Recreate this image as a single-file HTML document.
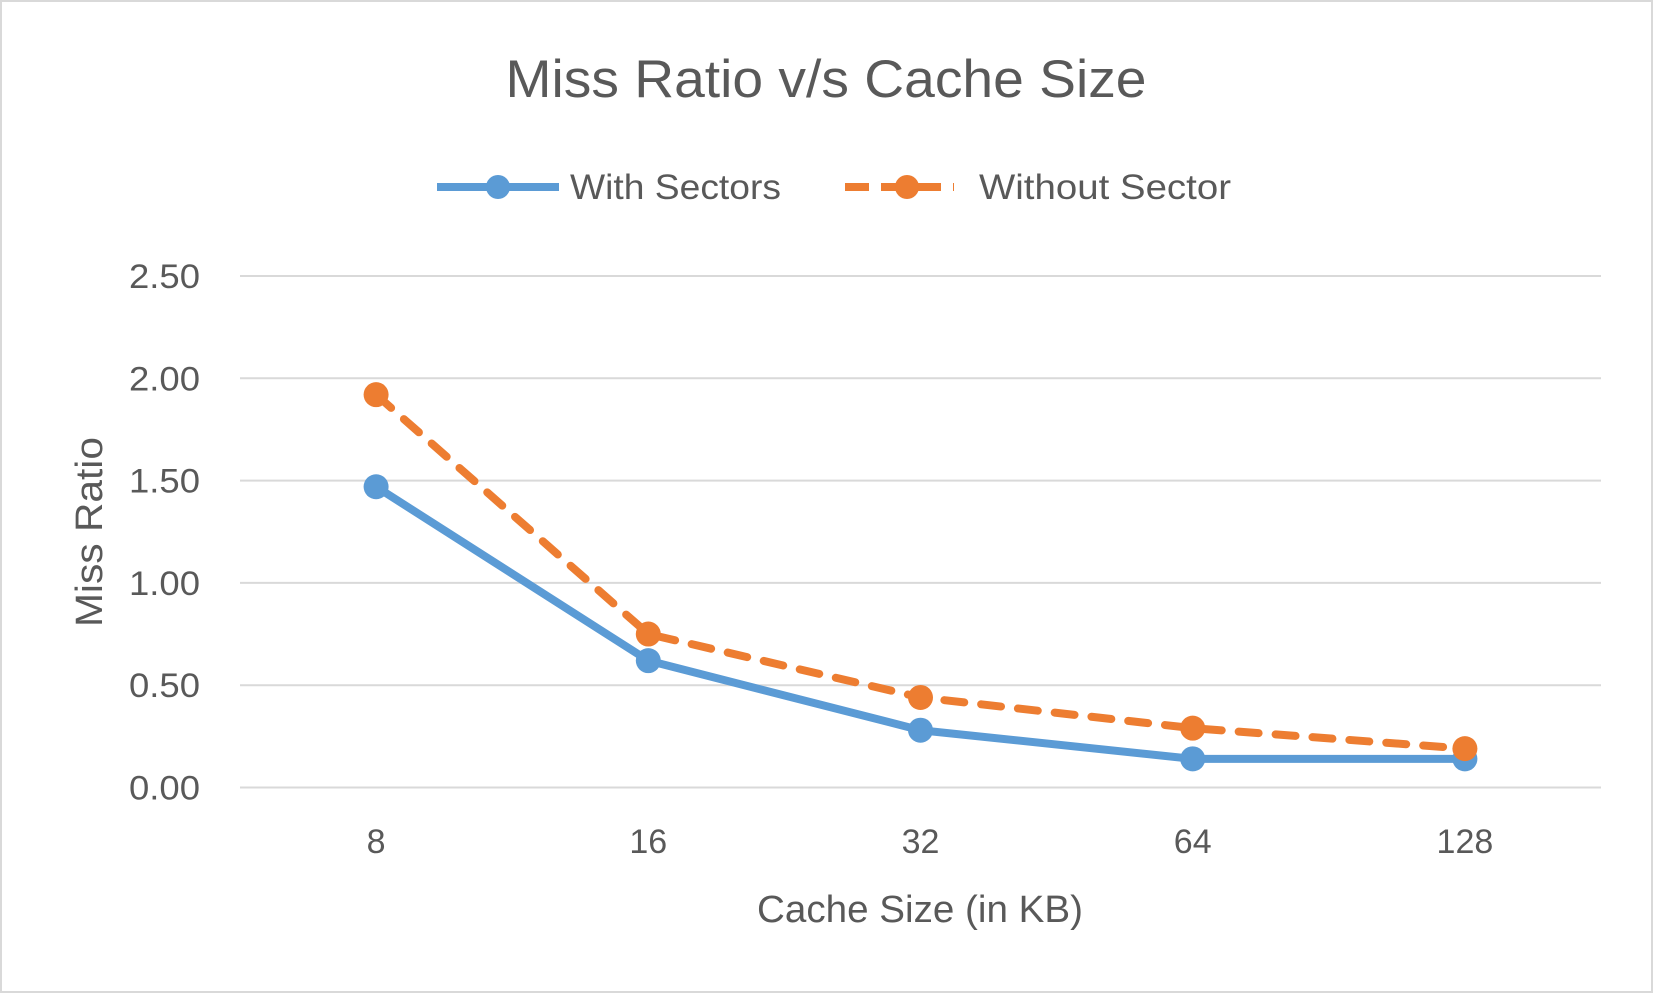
<!DOCTYPE html>
<html><head><meta charset="utf-8"><style>
html,body{margin:0;padding:0;background:#fff;}
svg{display:block;font-family:"Liberation Sans",sans-serif;}
</style></head><body>
<svg id="chart" width="1653" height="993" viewBox="0 0 1653 993">
<rect x="1" y="1" width="1651" height="991" fill="#fff" stroke="#d9d9d9" stroke-width="2"/>
<text x="826" y="97" text-anchor="middle" font-size="53" fill="#595959" textLength="641" lengthAdjust="spacingAndGlyphs">Miss Ratio v/s Cache Size</text>
<g>
<g>
<line x1="437" y1="187" x2="559" y2="187" stroke="#5b9bd5" stroke-width="8"/>
<circle cx="498" cy="187" r="12" fill="#5b9bd5"/>
<text x="570" y="199" font-size="35" fill="#595959" textLength="211" lengthAdjust="spacingAndGlyphs">With Sectors</text>
</g>
<g>
<line x1="845" y1="187" x2="954" y2="187" stroke="#ed7d31" stroke-width="8" stroke-dasharray="24 12"/>
<circle cx="907" cy="187" r="12" fill="#ed7d31"/>
<text x="979" y="199" font-size="35" fill="#595959" textLength="252" lengthAdjust="spacingAndGlyphs">Without Sector</text>
</g>
</g>
<g id="grid"></g>
<g id="yticks"></g>
<g id="xticks"></g>
<g id="series"></g>
<text x="0" y="0" transform="translate(102,532) rotate(-90)" text-anchor="middle" font-size="38" fill="#595959" textLength="190" lengthAdjust="spacingAndGlyphs">Miss Ratio</text>
<text x="920" y="922" text-anchor="middle" font-size="38" fill="#595959" textLength="326" lengthAdjust="spacingAndGlyphs">Cache Size (in KB)</text>
</svg>
<script>
const categories = ["8","16","32","64","128"];
const withSectors = [1.47, 0.62, 0.28, 0.14, 0.14];
const withoutSector = [1.92, 0.75, 0.44, 0.29, 0.19];
const yTicks = [0, 0.5, 1.0, 1.5, 2.0, 2.5];
const yTickLabels = ["0.00","0.50","1.00","1.50","2.00","2.50"];

const NS = "http://www.w3.org/2000/svg";
const L = 240, R = 1601, T = 276, B = 787.5, YMAX = 2.5;
function xPos(i){ const w = (R - L) / categories.length; return L + w * (i + 0.5); }
function yPos(v){ return B - (v / YMAX) * (B - T); }
function mk(tag, attrs, parent){ const e = document.createElementNS(NS, tag); for (const k in attrs) e.setAttribute(k, attrs[k]); parent.appendChild(e); return e; }

const grid = document.getElementById('grid');
const yt = document.getElementById('yticks');
yTicks.forEach((v, i) => {
  const y = yPos(v);
  const g = mk('line', {x1: L, x2: R, y1: y, y2: y, stroke: '#d9d9d9', 'stroke-width': 2}, grid);
  
  
  const t = mk('text', {x: 200, y: y + 12, 'text-anchor': 'end', 'font-size': 34, fill: '#595959', textLength: 71, lengthAdjust: 'spacingAndGlyphs'}, yt);
  t.textContent = yTickLabels[i];
  
  
});
const xt = document.getElementById('xticks');
categories.forEach((c, i) => {
  const t = mk('text', {x: xPos(i), y: 853, 'text-anchor': 'middle', 'font-size': 34, fill: '#595959'}, xt);
  t.textContent = c;
  
  
});
const sg = document.getElementById('series');
function drawSeries(vals, color, dash, name){
  const pts = vals.map((v, i) => xPos(i) + ',' + yPos(v)).join(' ');
  const attrs = {points: pts, fill: 'none', stroke: color, 'stroke-width': 8, 'stroke-linejoin': 'round'};
  if (dash) { attrs['stroke-dasharray'] = dash; attrs['stroke-linecap'] = 'round'; }
  const pl = mk('polyline', attrs, sg);
  
  
  vals.forEach((v, i) => {
    const c = mk('circle', {cx: xPos(i), cy: yPos(v), r: 12.5, fill: color}, sg);
    
    
  });
}
drawSeries(withSectors, '#5b9bd5', null, 'with-sectors');
drawSeries(withoutSector, '#ed7d31', '20 17', 'without-sector');
</script>
</body></html>
